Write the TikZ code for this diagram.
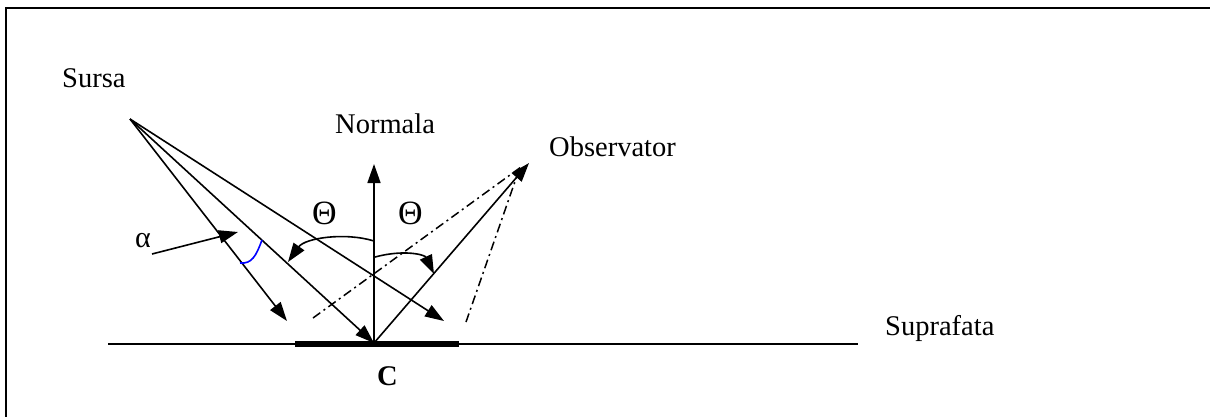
\documentclass[tikz,border=0pt]{standalone}
\usepackage{fontspec}
\setmainfont{Liberation Serif}
\usetikzlibrary{arrows.meta}
\begin{document}
\begin{tikzpicture}[x=1pt,y=-1pt,
  lbl/.style={inner sep=0pt,anchor=base west,font=\fontsize{28.5}{32}\selectfont},
  ray/.style={line width=1.6pt},
  arr/.style={ray,-{Triangle[length=19pt,width=13pt]}},
  dashdot/.style={line width=1.5pt,dash pattern=on 9pt off 4pt on 2pt off 4pt}]
\useasboundingbox (0,0) rectangle (1210,416);
% frame
\draw[line width=2.4pt] (1212,8) -- (6,8) -- (6,418);
% points
\coordinate (S) at (130,119);
\coordinate (C) at (374,343);
\coordinate (O) at (529,163);
\coordinate (N) at (374,164);
\coordinate (r1) at (287,321);
\coordinate (r3) at (444,321);
\coordinate (d1) at (313,318);
\coordinate (d2) at (466,322);
\coordinate (d2e) at (519,170);
\coordinate (d1e) at (521,167);
\coordinate (sl) at (108,344);
\coordinate (sr) at (858,344);
\coordinate (bl) at (295,344);
\coordinate (br) at (459,344);
\coordinate (aS) at (152,254);
\coordinate (aE) at (238,232);
\coordinate (t1s) at (374,241);
\coordinate (t1e) at (288,262);
\coordinate (t2s) at (375,257);
\coordinate (t2e) at (434,274);
\coordinate (b1) at (262,240);
\coordinate (b2) at (240,263);
% surface
\draw[line width=1.5pt] (sl) -- (sr);
\draw[line width=5.5pt] (bl) -- (br);
% rays from source
\draw[arr] (S) -- (r1);
\draw[arr] (S) -- (C);
\draw[arr] (S) -- (r3);
% normal
\draw[arr] (C) -- (N);
% reflected
\draw[arr] (C) -- (O);
% dash-dot
\draw[dashdot] (d1) -- (d1e);
\draw[dashdot] (d2) -- (d2e);
% theta arcs
\draw[arr] (t1s) .. controls (345,232) and (305,238) .. (t1e);
\draw[arr] (t2s) .. controls (405,249) and (425,255) .. (t2e);
% alpha
\draw[arr] (aS) -- (aE);
\draw[blue,line width=1.6pt] (b1) .. controls (256,256) and (252,264) .. (b2);
% labels
\node[lbl] (sursa) at (62,87) {Sursa};
\node[lbl] (normala) at (335,133) {Normala};
\node[lbl] (obs) at (549,156) {Observator};
\node[lbl] (supr) at (885,335) {Suprafata};
\node[lbl,font=\fontsize{28.5}{32}\selectfont\bfseries] (c) at (377,385) {C};
\node[lbl,font=\fontsize{34}{36}\selectfont] (th1) at (312,224) {Θ};
\node[lbl,font=\fontsize{34}{36}\selectfont] (th2) at (398,224) {Θ};
\node[lbl,font=\fontsize{30}{32}\selectfont] (alpha) at (135,247) {α};
\end{tikzpicture}
\end{document}
